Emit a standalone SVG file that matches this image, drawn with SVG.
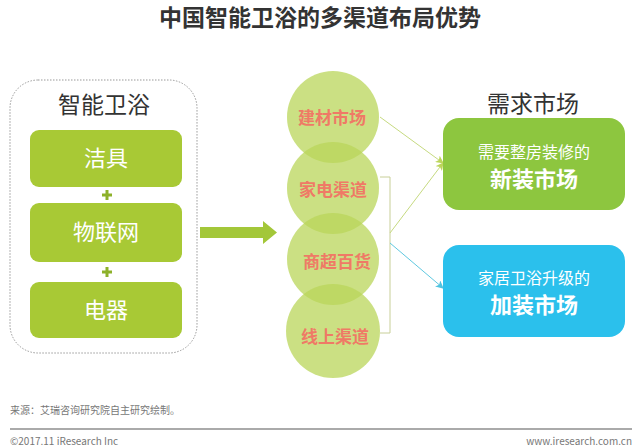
<svg xmlns="http://www.w3.org/2000/svg" width="640" height="448" viewBox="0 0 640 448">
<defs>
<style>
text{font-family:"Noto Sans CJK SC","Liberation Sans",sans-serif}
.title{font-size:23px;font-weight:bold;fill:#333}
.head{font-size:23px;fill:#333}
.gbox{fill:#A8C935}
.gtxt{font-size:22px;fill:#fff}
.circ{fill:#B9D65A;fill-opacity:0.75}
.ctxt{font-size:17px;font-weight:bold;fill:#EF7A66}
.plus{stroke:#8DB12A;stroke-width:3}
.sub{font-size:16px;fill:#fff}
.big{font-size:22px;font-weight:bold;fill:#fff}
.foot{font-size:10px;fill:#777}
</style>
<marker id="ag" markerWidth="8" markerHeight="8" refX="7" refY="4" orient="auto" markerUnits="userSpaceOnUse"><path d="M0,0 L8,4 L0,8 L2,4 Z" fill="#BCD55A"/></marker>
<marker id="ab" markerWidth="8" markerHeight="8" refX="7" refY="4" orient="auto" markerUnits="userSpaceOnUse"><path d="M0,0 L8,4 L0,8 L2,4 Z" fill="#4FC3E0"/></marker>
</defs>
<rect width="640" height="448" fill="#fff"/>
<text class="title" x="320" y="26" text-anchor="middle">中国智能卫浴的多渠道布局优势</text>

<g id="smart-bath">
<rect x="10" y="80" width="187" height="273" rx="28" fill="none" stroke="#999" stroke-width="1" stroke-dasharray="1.5 1.5"/>
<text class="head" x="104" y="113" text-anchor="middle">智能卫浴</text>
</g>
<g id="jieju"><rect class="gbox" x="30" y="130" width="152" height="57" rx="9"/><text class="gtxt" x="106" y="166" text-anchor="middle">洁具</text></g>
<g id="plus1"><path class="plus" d="M102,195 H112 M107,190 V200"/></g>
<g id="wulianwang"><rect class="gbox" x="30" y="203" width="152" height="59" rx="9"/><text class="gtxt" x="106" y="240" text-anchor="middle">物联网</text></g>
<g id="plus2"><path class="plus" d="M102,272 H112 M107,267 V277"/></g>
<g id="dianqi"><rect class="gbox" x="30" y="282" width="152" height="56" rx="9"/><text class="gtxt" x="106" y="318" text-anchor="middle">电器</text></g>

<g id="big-arrow"><polygon points="200,227 263,227 263,221 277,232.5 263,244 263,238 200,238" fill="#A3C739"/></g>

<g id="channels">
<g id="c1"><circle class="circ" cx="333" cy="117" r="46"/><text class="ctxt" x="332" y="124" text-anchor="middle">建材市场</text></g>
<g id="c2"><circle class="circ" cx="333" cy="188" r="46"/><text class="ctxt" x="333" y="196" text-anchor="middle">家电渠道</text></g>
<g id="c3"><circle class="circ" cx="333" cy="259" r="46"/><text class="ctxt" x="337" y="268" text-anchor="middle">商超百货</text></g>
<g id="c4"><circle class="circ" cx="333" cy="331" r="47"/><text class="ctxt" x="335" y="343" text-anchor="middle">线上渠道</text></g>
</g>

<g id="connectors" fill="none" stroke-width="1">
<line x1="380" y1="117" x2="443" y2="163" stroke="#C6DA80" marker-end="url(#ag)"/>
<path d="M380,177 H390 V333 H380" stroke="#C8CF98"/>
<line x1="390" y1="233" x2="443" y2="163" stroke="#C6DA80" marker-end="url(#ag)"/>
<line x1="390" y1="243" x2="443" y2="288" stroke="#5FC8E0" marker-end="url(#ab)"/>
</g>

<text class="head" x="533" y="112" text-anchor="middle">需求市场</text>
<g id="new-market"><rect x="443" y="118" width="182" height="92" rx="16" fill="#8DC63F"/><text class="sub" x="534" y="158" text-anchor="middle">需要整房装修的</text><text class="big" x="534" y="187" text-anchor="middle">新装市场</text></g>
<g id="add-market"><rect x="443" y="245" width="182" height="92" rx="16" fill="#2BC0EC"/><text class="sub" x="534" y="284" text-anchor="middle">家居卫浴升级的</text><text class="big" x="534" y="313" text-anchor="middle">加装市场</text></g>

<text class="foot" x="10" y="414">来源：艾瑞咨询研究院自主研究绘制。</text>
<line x1="10" y1="429" x2="632" y2="429" stroke="#AAA" stroke-width="2"/>
<text class="foot" x="10" y="445">©2017.11 iResearch Inc</text>
<text class="foot" x="632" y="445" text-anchor="end">www.iresearch.com.cn</text>
</svg>
